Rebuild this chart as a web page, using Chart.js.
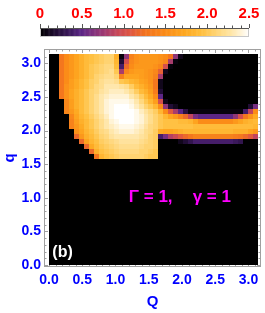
<!DOCTYPE html>
<html>
<head>
<meta charset="utf-8">
<script src="https://cdn.jsdelivr.net/npm/chart.js@4.4.1/dist/chart.umd.min.js"></script>
<style>
  html, body { margin: 0; padding: 0; background: #fff; }
  #wrap { position: relative; width: 265px; height: 313px; }
  canvas { position: absolute; left: 0; top: 0; }
</style>
</head>
<body>
<div id="wrap">
  <canvas id="main" width="265" height="313"></canvas>
  <canvas id="bar" width="265" height="45"></canvas>
</div>
<script>
// tick labels
const xTicks = [0, 0.5, 1, 1.5, 2, 2.5, 3];
const yTicks = [0, 0.5, 1, 1.5, 2, 2.5, 3];
const barTicks = [0, 0.5, 1, 1.5, 2, 2.5];

// heat values, rows from q = pi down to q = pi/2, 42 columns over Q = 0..pi
// (everything below q = pi/2 is 0)
const z00 = [0,0,1.3,1.5,1.6,1.7,1.8,1.9,1.95,2.0,2.05,2.1,2.1,1.8,0.05,0.7,1.4,1.55,1.6,1.6,1.6,1.6,1.55,1.5,1.3,0.7,0.1,0,0,0,0,0,0,0,0,0,0,0,0,0,0,0];
const z01 = [0,0,1.3,1.5,1.6,1.7,1.8,1.9,1.95,2.0,2.05,2.1,2.1,1.85,0.2,1.0,1.45,1.55,1.6,1.6,1.6,1.6,1.55,1.45,0.8,0.05,0,0,0,0,0,0,0,0,0,0,0,0,0,0,0,0];
const z02 = [0,0,1.3,1.5,1.6,1.7,1.8,1.9,2.0,2.05,2.1,2.15,2.15,1.9,0.4,1.2,1.5,1.6,1.6,1.6,1.6,1.55,1.45,1.0,0.05,0,0,0,0,0,0,0,0,0,0,0,0,0,0,0,0,0];
const z03 = [0,0,1.3,1.5,1.6,1.7,1.8,1.9,2.0,2.05,2.1,2.15,2.2,2.0,0.8,1.45,1.6,1.65,1.65,1.6,1.55,1.45,1.15,0.1,0,0,0,0,0,0,0,0,0,0,0,0,0,0,0,0,0,0];
const z04 = [0,0,1.3,1.5,1.6,1.7,1.8,1.9,2.0,2.1,2.15,2.2,2.2,2.1,1.4,1.7,1.7,1.7,1.65,1.6,1.55,1.4,0.8,0,0,0,0,0,0,0,0,0,0,0,0,0,0,0,0,0,0,0];
const z05 = [0,0,1.3,1.5,1.65,1.75,1.85,1.95,2.05,2.1,2.2,2.25,2.25,2.2,2.0,1.95,1.85,1.8,1.7,1.65,1.55,1.3,0.1,0,0,0,0,0,0,0,0,0,0,0,0,0,0,0,0,0,0,0];
const z06 = [0,0,1.3,1.55,1.65,1.75,1.85,1.95,2.05,2.15,2.2,2.3,2.3,2.3,2.25,2.2,2.05,1.9,1.8,1.7,1.6,1.3,0.1,0,0,0,0,0,0,0,0,0,0,0,0,0,0,0,0,0,0,0];
const z07 = [0,0,1.3,1.55,1.7,1.8,1.9,2.0,2.1,2.15,2.25,2.3,2.35,2.35,2.35,2.3,2.2,2.05,1.9,1.8,1.65,1.35,0.2,0,0,0,0,0,0,0,0,0,0,0,0,0,0,0,0,0,0,0];
const z08 = [0,0,1.3,1.55,1.7,1.8,1.9,2.0,2.1,2.2,2.3,2.35,2.4,2.4,2.4,2.4,2.3,2.2,2.05,1.9,1.75,1.5,0.5,0,0,0,0,0,0,0,0,0,0,0,0,0,0,0,0,0,0,0];
const z09 = [0,0,0,1.45,1.65,1.8,1.9,2.0,2.1,2.2,2.3,2.4,2.45,2.45,2.45,2.45,2.4,2.3,2.15,2.0,1.85,1.65,1.0,0.1,0,0,0,0,0,0,0,0,0,0,0,0,0,0,0,0,0,0];
const z10 = [0,0,0,1.45,1.65,1.8,1.9,2.0,2.1,2.2,2.3,2.4,2.45,2.5,2.5,2.5,2.45,2.35,2.25,2.1,2.0,1.85,1.5,0.7,0.2,0.1,0,0,0,0,0,0,0,0,0,0,0,0,0,0,0.2,0.6];
const z11 = [0,0,0,1.45,1.6,1.75,1.9,2.0,2.1,2.2,2.3,2.4,2.45,2.5,2.5,2.5,2.5,2.45,2.35,2.25,2.15,2.05,1.85,1.5,1.1,0.8,0.5,0.25,0.05,0.05,0.05,0.05,0.05,0.05,0.05,0.05,0.05,0.05,0.05,0.4,0.9,1.5];
const z12 = [0,0,0,0,1.45,1.7,1.85,1.95,2.05,2.15,2.25,2.35,2.45,2.5,2.5,2.5,2.5,2.45,2.4,2.3,2.2,2.1,2.0,1.85,1.7,1.6,1.4,1.2,0.9,0.6,0.5,0.5,0.5,0.5,0.5,0.5,0.5,0.7,1.0,1.3,1.55,1.75];
const z13 = [0,0,0,0,1.4,1.65,1.8,1.9,2.0,2.1,2.2,2.3,2.4,2.45,2.5,2.5,2.5,2.45,2.4,2.3,2.2,2.1,2.0,1.95,1.95,1.95,1.9,1.9,1.85,1.7,1.5,1.5,1.5,1.5,1.5,1.5,1.5,1.6,1.7,1.8,1.85,1.9];
const z14 = [0,0,0,0,1.4,1.6,1.75,1.9,2.0,2.1,2.2,2.3,2.35,2.4,2.45,2.45,2.45,2.4,2.35,2.25,2.15,2.1,2.0,1.95,1.95,1.95,1.95,1.95,1.95,1.9,1.9,1.9,1.9,1.9,1.9,1.9,1.9,1.9,1.9,1.9,1.9,1.85];
const z15 = [0,0,0,0,0,1.55,1.7,1.85,1.95,2.05,2.15,2.2,2.3,2.35,2.4,2.4,2.4,2.35,2.3,2.2,2.15,2.05,1.75,1.7,1.7,1.75,1.8,1.85,1.85,1.85,1.85,1.85,1.85,1.85,1.85,1.85,1.85,1.8,1.8,1.8,1.7,1.6];
const z16 = [0,0,0,0,0,1.2,1.6,1.8,1.9,2.0,2.1,2.15,2.25,2.3,2.3,2.3,2.3,2.3,2.25,2.2,2.1,2.05,0.4,0.6,0.85,0.95,1.1,1.2,1.3,1.4,1.4,1.4,1.4,1.4,1.4,1.4,1.4,1.35,1.3,1.2,1.1,0.9];
const z17 = [0,0,0,0,0,0,1.2,1.7,1.85,1.95,2.05,2.1,2.15,2.2,2.25,2.25,2.25,2.25,2.2,2.15,2.1,2.05,0,0,0,0,0.1,0.2,0.3,0.4,0.4,0.4,0.4,0.4,0.4,0.4,0.4,0.35,0.3,0,0,0];
const z18 = [0,0,0,0,0,0,0,1.2,1.75,1.9,2.0,2.05,2.1,2.15,2.2,2.2,2.2,2.2,2.15,2.1,2.1,2.05,0,0,0,0,0,0,0,0,0,0,0,0,0,0,0,0,0,0,0,0];
const z19 = [0,0,0,0,0,0,0,0,1.2,1.8,1.95,2.0,2.05,2.1,2.15,2.15,2.15,2.15,2.1,2.1,2.05,2.0,0,0,0,0,0,0,0,0,0,0,0,0,0,0,0,0,0,0,0,0];
const z20 = [0,0,0,0,0,0,0,0,0,1.3,1.85,1.95,2.0,2.05,2.1,2.1,2.1,2.1,2.1,2.05,2.0,2.0,0,0,0,0,0,0,0,0,0,0,0,0,0,0,0,0,0,0,0,0];
const zRows = [z00,z01,z02,z03,z04,z05,z06,z07,z08,z09,z10,z11,z12,z13,z14,z15,z16,z17,z18,z19,z20];

const cell = Math.PI / 42;
const zMax = 2.5;

// sunset-like colour map
const cmapAt = [0, 0.18, 0.37, 0.49, 0.61, 0.77, 0.93, 1.09, 1.25, 1.5, 1.73, 1.94, 2.13, 2.29, 2.5];
const cmapRGB = [
  [0,0,0],[30,12,48],[62,26,96],[90,37,133],[122,48,128],[160,58,112],[200,72,88],
  [224,88,64],[242,114,32],[251,140,24],[254,168,32],[255,192,64],[255,214,122],
  [255,230,168],[255,255,255]
];
function colorFor(v) {
  v = Math.max(0, Math.min(zMax, v));
  let i = 0;
  while (i < cmapAt.length - 2 && v > cmapAt[i + 1]) i++;
  const t = (v - cmapAt[i]) / (cmapAt[i + 1] - cmapAt[i]);
  const a = cmapRGB[i], b = cmapRGB[i + 1];
  const c = a.map((u, k) => Math.round(u + (b[k] - u) * t));
  return 'rgb(' + c.join(',') + ')';
}

const labelFont = { family: 'Liberation Sans, Arial, sans-serif', size: 14, weight: 'bold' };
const frameGray = '#a0a0a0';

function drawFrameTicks(ctx, scale, horizontal, area) {
  for (let k = 0; k <= 31; k++) {
    const v = k / 10;
    const major = k % 5 === 0;
    const len = major ? 4 : 2.5;
    const p = Math.round(scale.getPixelForValue(v)) + 0.5;
    ctx.beginPath();
    if (horizontal) {
      ctx.moveTo(p, area.bottom); ctx.lineTo(p, area.bottom - len);
      ctx.moveTo(p, area.top); ctx.lineTo(p, area.top + len);
    } else {
      ctx.moveTo(area.left, p); ctx.lineTo(area.left + len, p);
      ctx.moveTo(area.right, p); ctx.lineTo(area.right - len, p);
    }
    ctx.stroke();
  }
}

const heatPlugin = {
  id: 'heat',
  beforeDatasetsDraw(chart) {
    const { ctx, chartArea: area, scales: { x, y } } = chart;
    ctx.save();
    ctx.strokeStyle = frameGray;
    ctx.lineWidth = 1;
    drawFrameTicks(ctx, x, true, area);
    drawFrameTicks(ctx, y, false, area);
    ctx.strokeRect(area.left + 0.5, area.top + 0.5, area.right - area.left - 1, area.bottom - area.top - 1);

    // zero level over the whole domain
    const X0 = Math.round(x.getPixelForValue(0)), X1 = Math.round(x.getPixelForValue(Math.PI));
    const Y0 = Math.round(y.getPixelForValue(Math.PI)), Y1 = Math.round(y.getPixelForValue(0));
    ctx.fillStyle = colorFor(0);
    ctx.fillRect(X0, Y0, X1 - X0, Y1 - Y0);

    zRows.forEach((row, r) => {
      const qHi = Math.PI - r * cell, qLo = qHi - cell;
      const py0 = Math.round(y.getPixelForValue(qHi));
      const py1 = Math.round(y.getPixelForValue(qLo));
      row.forEach((v, c) => {
        if (v <= 0) return;
        const px0 = Math.round(x.getPixelForValue(c * cell));
        const px1 = Math.round(x.getPixelForValue((c + 1) * cell));
        ctx.fillStyle = colorFor(v);
        ctx.fillRect(px0, py0, px1 - px0, py1 - py0);
      });
    });
    ctx.restore();
  },
  afterDatasetsDraw(chart) {
    const { ctx, scales: { x, y } } = chart;
    ctx.save();
    ctx.textBaseline = 'middle';
    ctx.textAlign = 'left';
    ctx.font = 'bold 16px Liberation Sans, Arial, sans-serif';
    ctx.fillStyle = '#ffffff';
    ctx.fillText('(b)', x.getPixelForValue(0.05), y.getPixelForValue(0.19));
    ctx.font = 'bold 17px Liberation Sans, Arial, sans-serif';
    ctx.fillStyle = '#ff00ff';
    ctx.fillText('\u0393 = 1,', x.getPixelForValue(1.2), y.getPixelForValue(1.01));
    ctx.fillText('\u03B3 = 1', x.getPixelForValue(2.16), y.getPixelForValue(1.01));
    ctx.restore();
  }
};

new Chart(document.getElementById('main'), {
  type: 'scatter',
  data: { datasets: [{ data: [] }] },
  options: {
    responsive: false,
    animation: false,
    layout: { padding: { left: 0, right: 4, top: 49, bottom: 0 } },
    plugins: { legend: { display: false }, tooltip: { enabled: false } },
    scales: {
      x: {
        type: 'linear', min: -0.0752, max: 3.188,
        afterFit(s) { s.height = 46; },
        afterBuildTicks(s) { s.ticks = xTicks.map(v => ({ value: v })); },
        grid: { display: false, drawTicks: false },
        border: { display: false },
        ticks: { color: '#0000ff', font: labelFont, padding: 5, maxRotation: 0, autoSkip: false,
                 callback: v => Number(v).toFixed(1) },
        title: { display: true, text: 'Q', color: '#0000ff',
                 font: { family: 'Liberation Sans, Arial, sans-serif', size: 15, weight: 'bold' },
                 padding: { top: 0, bottom: 2 } }
      },
      y: {
        type: 'linear', min: -0.0298, max: 3.214,
        afterFit(s) { s.width = 44; },
        afterBuildTicks(s) { s.ticks = yTicks.map(v => ({ value: v })); },
        grid: { display: false, drawTicks: false },
        border: { display: false },
        ticks: { color: '#0000ff', font: labelFont, padding: 3, autoSkip: false,
                 callback: v => Number(v).toFixed(1) },
        title: { display: true, text: 'q', color: '#0000ff',
                 font: { family: 'Liberation Sans, Arial, sans-serif', size: 15, weight: 'bold' },
                 padding: { top: 1, bottom: 0 } }
      }
    }
  },
  plugins: [heatPlugin]
});

const barPlugin = {
  id: 'colorbar',
  beforeDatasetsDraw(chart) {
    const { ctx, chartArea: a, scales: { x } } = chart;
    ctx.save();
    for (let k = 0; k < 250; k++) {
      const v0 = k / 100, v1 = (k + 1) / 100;
      const p0 = x.getPixelForValue(v0), p1 = x.getPixelForValue(v1);
      ctx.fillStyle = colorFor((v0 + v1) / 2);
      ctx.fillRect(p0, a.top, p1 - p0 + 0.5, a.bottom - a.top);
    }
    ctx.strokeStyle = '#c8c8c8';
    ctx.lineWidth = 1;
    ctx.strokeRect(a.left + 0.5, a.top + 0.5, a.right - a.left - 1, a.bottom - a.top - 1);
    ctx.strokeStyle = '#555';
    ctx.beginPath();
    ctx.moveTo(a.left, a.top + 0.5); ctx.lineTo(a.right, a.top + 0.5);
    for (let k = 0; k <= 25; k++) {
      const p = Math.round(x.getPixelForValue(k / 10)) + 0.5;
      const len = k % 5 === 0 ? 4 : 2.5;
      ctx.moveTo(p, a.top); ctx.lineTo(p, a.top - len);
    }
    ctx.stroke();
    ctx.restore();
  }
};

new Chart(document.getElementById('bar'), {
  type: 'scatter',
  data: { datasets: [{ data: [] }] },
  options: {
    responsive: false,
    animation: false,
    layout: { padding: { left: 40, right: 16, top: 0, bottom: 8 } },
    plugins: { legend: { display: false }, tooltip: { enabled: false } },
    scales: {
      x: {
        type: 'linear', position: 'top', min: 0, max: 2.5,
        afterFit(s) { s.height = 28; },
        afterBuildTicks(s) { s.ticks = barTicks.map(v => ({ value: v })); },
        grid: { display: false, drawTicks: false },
        border: { display: false },
        ticks: { color: '#ff0000', font: { family: 'Liberation Sans, Arial, sans-serif', size: 15, weight: 'bold' },
                 padding: 5, maxRotation: 0, autoSkip: false,
                 callback: v => (v === 0 ? '0' : Number(v).toFixed(1)) }
      },
      y: { display: false, min: 0, max: 1 }
    }
  },
  plugins: [barPlugin]
});
</script>
</body>
</html>
